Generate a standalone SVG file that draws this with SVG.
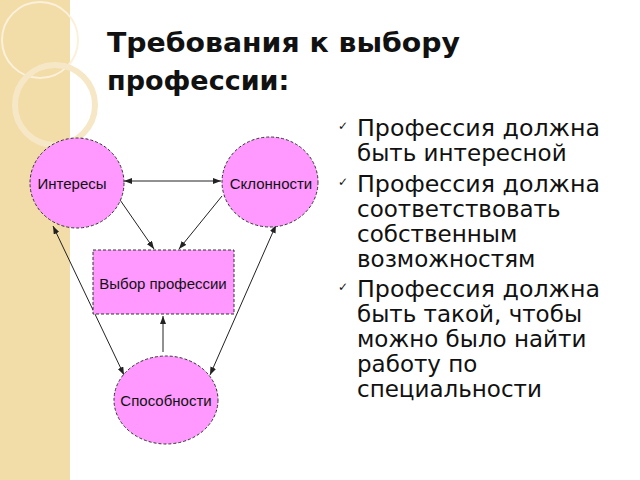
<svg xmlns="http://www.w3.org/2000/svg" width="640" height="480" viewBox="0 0 640 480">
<style>
.n{fill:#ff99ff;stroke:#333;stroke-width:1;stroke-dasharray:3 2}
.l{font-family:"Liberation Sans",Arial,sans-serif;font-size:15px;fill:#111;text-anchor:middle}
.c{stroke:#222;stroke-width:1;fill:none;marker-end:url(#a)}
.b{marker-start:url(#s)}
.t{font-family:"DejaVu Sans","Noto Sans",sans-serif;font-size:27px;font-weight:bold;fill:#111}
.x{font-family:"DejaVu Sans","Noto Sans",sans-serif;font-size:23px;fill:#111}
.k{font-family:"DejaVu Sans",sans-serif;font-size:12px;fill:#111}
</style>
<defs>
<marker id="a" markerWidth="8" markerHeight="6" refX="8" refY="3" orient="auto" markerUnits="userSpaceOnUse"><path d="M0,0L8,3L0,6z" fill="#222"/></marker>
<marker id="s" markerWidth="8" markerHeight="6" refX="0" refY="3" orient="auto" markerUnits="userSpaceOnUse"><path d="M8,0L0,3L8,6z" fill="#222"/></marker>
</defs>
<rect width="640" height="480" fill="#fff"/>
<rect width="70" height="480" fill="#f2dca8"/>
<circle cx="40" cy="40" r="38" fill="none" stroke="#fbf1da" stroke-width="2"/>
<circle cx="55" cy="105" r="40" fill="none" stroke="#f6e8c6" stroke-width="6"/>
<text class="t" x="107" y="52" textLength="353" lengthAdjust="spacingAndGlyphs">Требования к выбору</text>
<text class="t" x="107" y="90">профессии:</text>
<g id="list">
<text class="k" x="338" y="130">✓</text><text class="x" x="357" y="136" textLength="243" lengthAdjust="spacingAndGlyphs">Профессия должна</text>
<text class="x" x="357" y="161">быть интересной</text>
<text class="k" x="338" y="186">✓</text><text class="x" x="357" y="192" textLength="243" lengthAdjust="spacingAndGlyphs">Профессия должна</text>
<text class="x" x="357" y="217">соответствовать</text>
<text class="x" x="357" y="242">собственным</text>
<text class="x" x="357" y="267">возможностям</text>
<text class="k" x="338" y="291">✓</text><text class="x" x="357" y="297" textLength="243" lengthAdjust="spacingAndGlyphs">Профессия должна</text>
<text class="x" x="357" y="322">быть такой, чтобы</text>
<text class="x" x="357" y="347">можно было найти</text>
<text class="x" x="357" y="372">работу по</text>
<text class="x" x="357" y="397">специальности</text>
</g>
<g id="connectors">
<line class="c b" x1="124" y1="181" x2="221" y2="181"/>
<line class="c" x1="118" y1="197" x2="154" y2="249"/>
<line class="c" x1="222" y1="196" x2="179" y2="249"/>
<line class="c" x1="163" y1="352" x2="163" y2="316"/>
<line class="c b" x1="53" y1="226" x2="124" y2="375"/>
<line class="c b" x1="276" y1="225" x2="210" y2="375"/>
</g>
<g id="interesy"><ellipse class="n" cx="77" cy="183" rx="47" ry="45"/><text class="l" x="72" y="189">Интересы</text></g>
<g id="sklonnosti"><ellipse class="n" cx="270" cy="182" rx="48" ry="45"/><text class="l" x="271" y="189">Склонности</text></g>
<g id="vybor"><rect class="n" x="93" y="250" width="141" height="64"/><text class="l" x="163" y="289">Выбор профессии</text></g>
<g id="sposobnosti"><ellipse class="n" cx="166" cy="400" rx="52" ry="44"/><text class="l" x="166" y="406">Способности</text></g>
</svg>
